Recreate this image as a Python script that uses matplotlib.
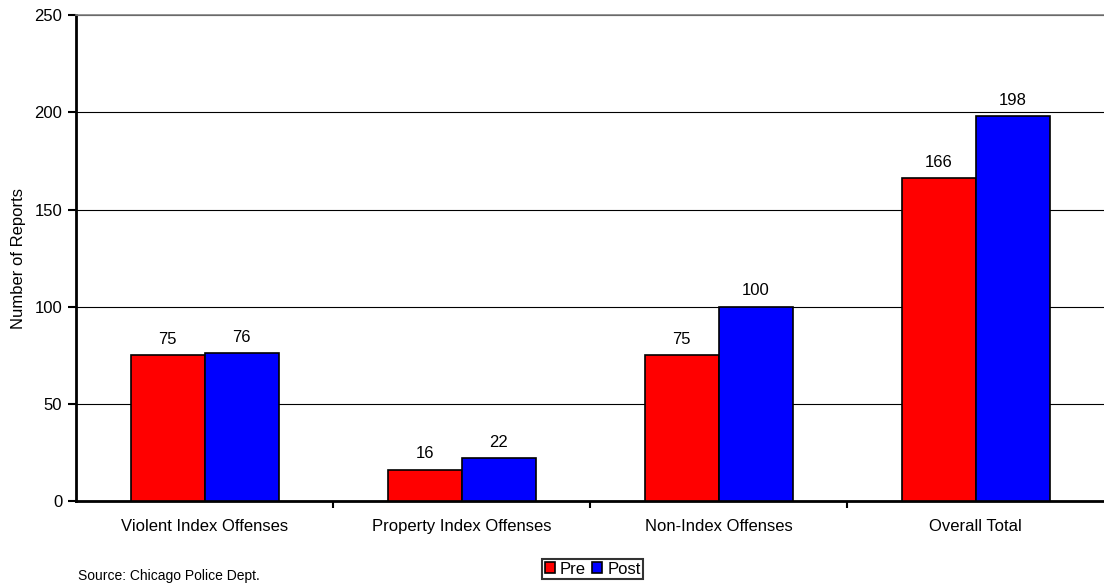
import numpy as np
import matplotlib.pyplot as plt

categories = ['Violent Index Offenses', 'Property Index Offenses', 'Non-Index Offenses', 'Overall Total']
pre = [75, 16, 75, 166]
post = [76, 22, 100, 198]

plt.rcParams['font.family'] = ['Liberation Sans', 'DejaVu Sans']

fig = plt.figure(figsize=(11.04, 5.86), dpi=100)
ax = fig.add_axes([0.069, 0.145, 0.931, 0.829])

x = np.arange(len(categories))
w = 0.288
b1 = ax.bar(x - w / 2, pre, w, color='#ff0000', edgecolor='black', linewidth=1.2, label='Pre', zorder=3)
b2 = ax.bar(x + w / 2, post, w, color='#0000ff', edgecolor='black', linewidth=1.2, label='Post', zorder=3)

# value labels above each bar
for bars, vals in ((b1, pre), (b2, post)):
    for r, v in zip(bars, vals):
        ax.text(r.get_x() + r.get_width() / 2, v + 4.5, str(v), ha='center', va='bottom', fontsize=12)

ax.set_xlim(-0.5, len(categories) - 0.5)
ax.set_ylim(0, 250)
ax.set_yticks(range(0, 251, 50))
ax.yaxis.grid(True, color='black', linewidth=0.8, zorder=0)
ax.set_xticks(x)
ax.set_xticklabels(categories, fontsize=12)
ax.tick_params(axis='x', length=0, pad=13)
ax.set_xticks(np.arange(0.5, len(categories) - 0.5, 1), minor=True)
ax.tick_params(axis='x', which='minor', length=5, width=1.5, direction='out')
ax.tick_params(axis='y', length=6, width=1.5, labelsize=12, pad=4)
ax.set_ylabel('Number of Reports', fontsize=12)
ax.yaxis.set_label_coords(-0.049, 0.5)

ax.spines['top'].set_color('gray')
ax.spines['top'].set_linewidth(1.2)
ax.spines['right'].set_visible(False)
ax.spines['left'].set_linewidth(2)
ax.spines['bottom'].set_linewidth(2)

leg = fig.legend(loc='center', bbox_to_anchor=(0.537, 0.029), ncol=2, fontsize=12,
                 frameon=True, fancybox=False, edgecolor='black', handlelength=0.6,
                 handleheight=0.6, handletextpad=0.3, columnspacing=0.4,
                 borderpad=0.15, borderaxespad=0)
leg.get_frame().set_linewidth(1.5)

fig.text(0.0707, 0.01, 'Source: Chicago Police Dept.', fontsize=10, va='baseline')

fig.savefig('out.png', dpi=100)
